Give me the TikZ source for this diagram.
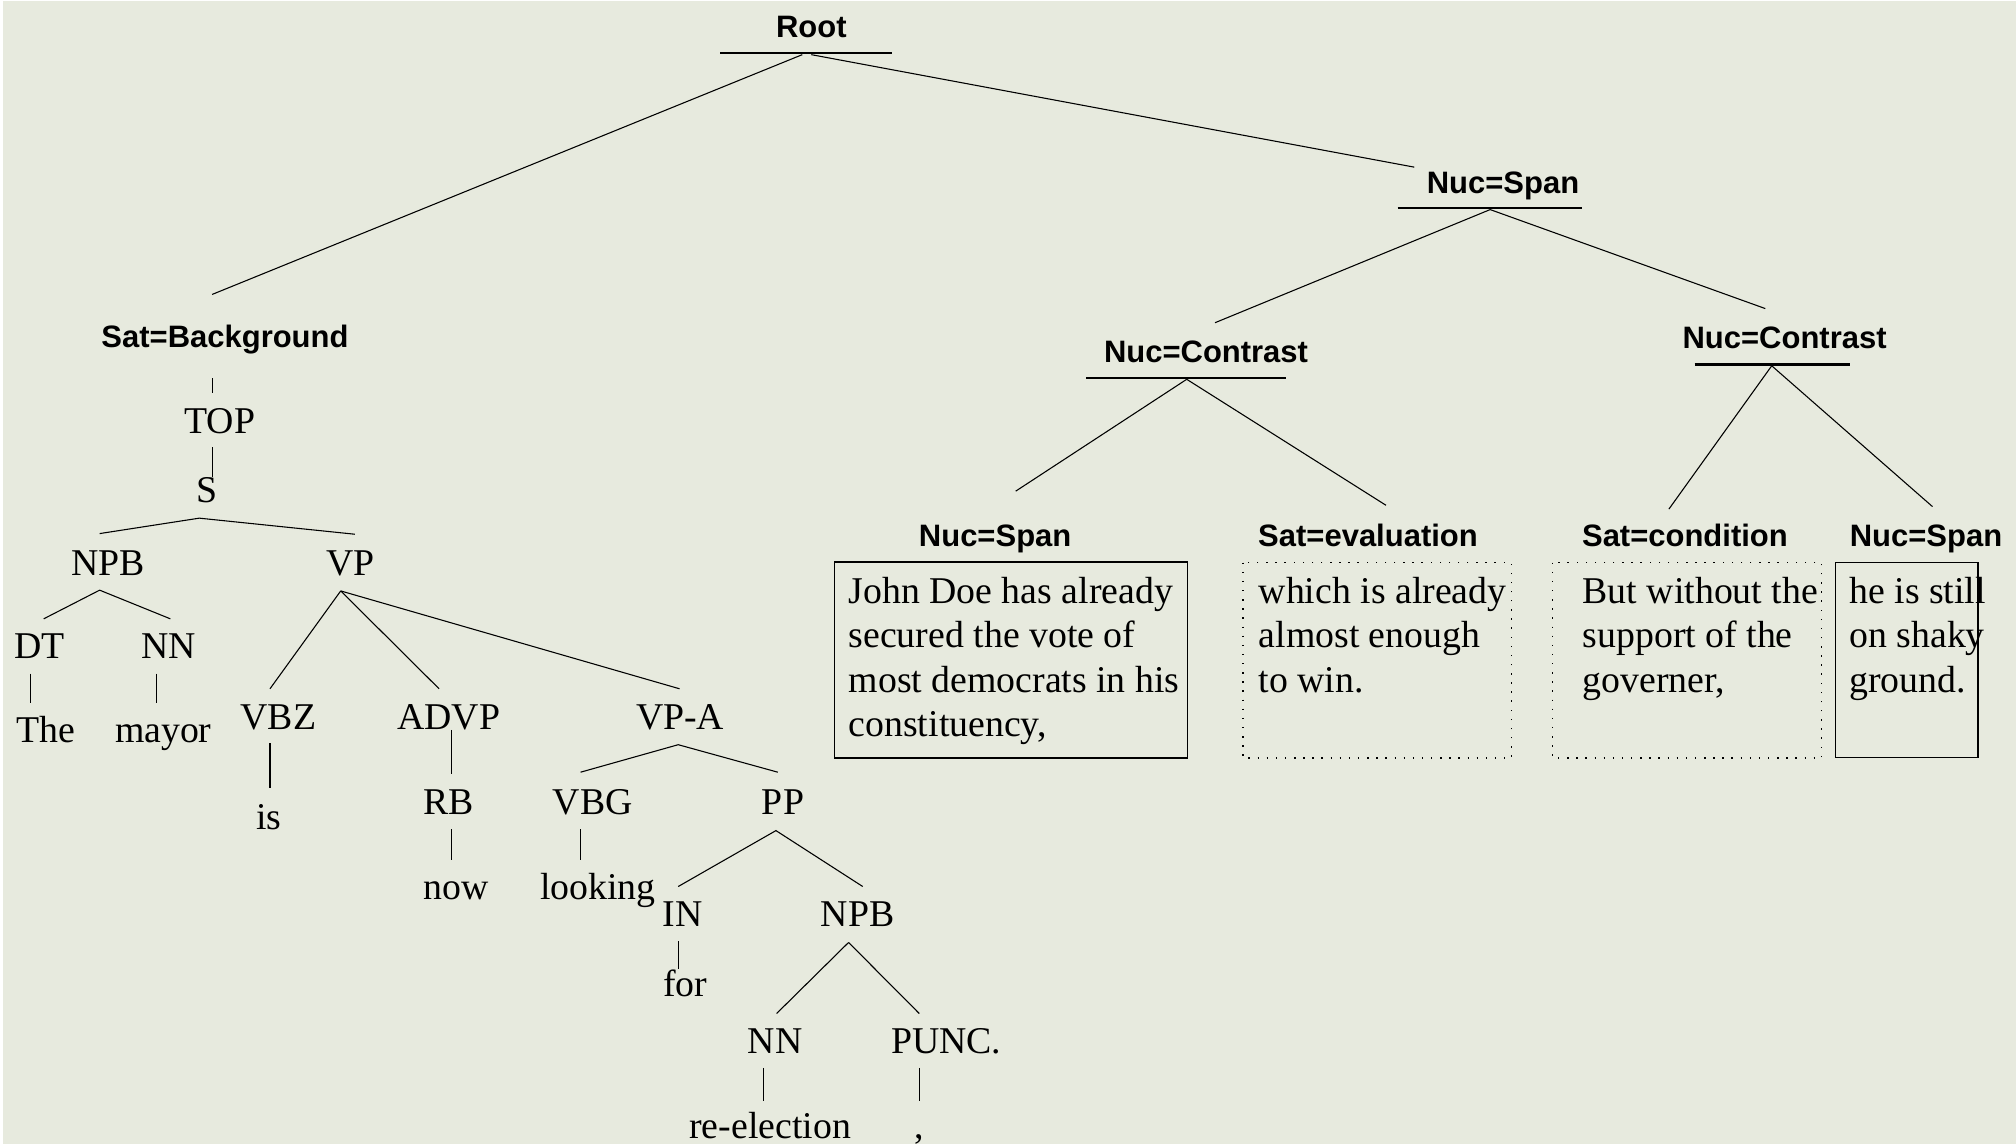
\documentclass[tikz,border=0pt]{standalone}
\usepackage{fontspec}
\setmainfont{Liberation Serif}
\newfontfamily\rstfont{Liberation Sans}
\definecolor{bgc}{RGB}{231,234,222}
\begin{document}
\begin{tikzpicture}[x=0.5pt,y=-0.5pt,
  rst/.style={font=\rstfont\bfseries\fontsize{12.05}{14}\selectfont, inner sep=0pt, anchor=base},
  syn/.style={font=\fontsize{14.7}{17}\selectfont, inner sep=0pt, anchor=base},
  boxtxt/.style={font=\fontsize{14.7}{17}\selectfont, inner sep=0pt, anchor=base west},
  edge/.style={line width=0.42pt, black},
  ul/.style={line width=0.8pt, black},
  solidbox/.style={draw=black, line width=0.6pt},
  dotbox/.style={draw=black, line width=0.55pt, dash pattern=on 0.55pt off 3pt}]
\fill[bgc] (0,0) rectangle (1568,890);
\useasboundingbox (0,0) rectangle (1568,890);
\fill[white] (0,0) rectangle (2.3,890);
\fill[white] (0,0) rectangle (1568,0.8);

% ---------------- RST labels ----------------
\node[rst] (root) at (631,29.5) {Root};
\node[rst] (nucspan) at (1169,150.4) {Nuc=Span};
\node[rst] (conL) at (938,282) {Nuc=Contrast};
\node[rst] (conR) at (1388,271) {Nuc=Contrast};
\node[rst] (satbg) at (175,270) {Sat=Background};
\node[rst] (lnucspan) at (774,425) {Nuc=Span};
\node[rst] (sateval) at (1064,425) {Sat=evaluation};
\node[rst] (satcond) at (1310.5,425) {Sat=condition};
\node[rst] (rnucspan) at (1498,425) {Nuc=Span};

% underlines
\coordinate (rootU1) at (560,41.5);   \coordinate (rootU2) at (694,41.5);
\coordinate (nsU1) at (1087,161.5);   \coordinate (nsU2) at (1230.5,161.5);
\coordinate (conLU1) at (845,294);    \coordinate (conLU2) at (1000,294);
\coordinate (conRU1) at (1318,283.5); \coordinate (conRU2) at (1439,283.5);
\draw[ul] (rootU1) -- (rootU2);
\draw[ul] (nsU1) -- (nsU2);
\draw[ul] (conLU1) -- (conLU2);
\draw[ul] (conRU1) -- (conRU2);

% RST connectors
\coordinate (rootApL) at (624,42.5);  \coordinate (rootApR) at (631,42.5);
\coordinate (satbgTop) at (165,229);
\coordinate (nsTop) at (1100,130);
\coordinate (nsApx) at (1159,163);
\coordinate (conLTop) at (945,251);
\coordinate (conRTop) at (1373,240);
\coordinate (conLApx) at (923,295);
\coordinate (lnsTop) at (790,382);
\coordinate (sevTop) at (1078,393);
\coordinate (conRApx) at (1378,284.5);
\coordinate (scoTop) at (1298,396);
\coordinate (rnsTop) at (1503,394);
\draw[edge] (rootApL) -- (satbgTop);
\draw[edge] (rootApR) -- (nsTop);
\draw[edge] (nsApx) -- (conLTop);
\draw[edge] (nsApx) -- (conRTop);
\draw[edge] (conLApx) -- (lnsTop);
\draw[edge] (conLApx) -- (sevTop);
\draw[edge] (conRApx) -- (scoTop);
\draw[edge] (conRApx) -- (rnsTop);

% ---------------- text boxes ----------------
\draw[solidbox] (649,437) rectangle (923.7,589.6);
\draw[dotbox] (966.8,437.6) rectangle (1175.8,589.6);
\draw[dotbox] (1207.6,437.6) rectangle (1416.9,589.6);
\draw[solidbox] (1427.7,437.4) rectangle (1538.5,589.3);

\node[boxtxt] (b1a) at (659.7,469.5) {John Doe has already};
\node[boxtxt] (b1b) at (659.7,503.9) {secured the vote of};
\node[boxtxt] (b1c) at (659.7,538.3) {most democrats in his};
\node[boxtxt] (b1d) at (659.7,572.7) {constituency,};

\node[boxtxt] (b2a) at (978.6,469.5) {which is already};
\node[boxtxt] (b2b) at (978.6,503.9) {almost enough};
\node[boxtxt] (b2c) at (978.6,538.3) {to win.};

\node[boxtxt] (b3a) at (1230.6,469.5) {But without the};
\node[boxtxt] (b3b) at (1230.6,503.9) {support of the};
\node[boxtxt] (b3c) at (1230.6,538.3) {governer,};

\node[boxtxt] (b4a) at (1438,469.5) {he is still};
\node[boxtxt] (b4b) at (1438,503.9) {on shaky};
\node[boxtxt] (b4c) at (1438,538.3) {ground.};

% ---------------- syntax tree ----------------
\node[syn] (top) at (171,337) {TOP};
\node[syn] (s) at (161,391) {S};
\node[syn] (npb) at (84,447.4) {NPB};
\node[syn] (vp) at (272.5,447.4) {VP};
\node[syn] (dt) at (31,512.3) {DT};
\node[syn] (nn) at (131,512.3) {NN};
\node[syn] (the) at (36,577.5) {The};
\node[syn] (mayor) at (127,577.5) {mayor};
\node[syn] (vbz) at (216.5,567) {VBZ};
\node[syn] (advp) at (349,567) {ADVP};
\node[syn] (vpa) at (529,567) {VP-A};
\node[syn] (is) at (209,645) {is};
\node[syn] (rb) at (349,633.5) {RB};
\node[syn] (now) at (355,699.4) {now};
\node[syn] (vbg) at (461,633.5) {VBG};
\node[syn] (pp) at (609,633.5) {PP};
\node[syn] (looking) at (465,699.4) {looking};
\node[syn] (in) at (531,720.8) {IN};
\node[syn] (npbb) at (667,720.8) {NPB};
\node[syn] (for) at (533,775.2) {for};
\node[syn] (nnb) at (603,819.6) {NN};
\node[syn] (punc) at (736,819.6) {PUNC.};
\node[syn] (reelec) at (599,885.5) {re-election};
\node[syn] (comma) at (715,885.5) {,};

% syntax connectors
\coordinate (bgT1) at (165,294);   \coordinate (bgT2) at (165,306);
\coordinate (topS1) at (165,348);  \coordinate (topS2) at (165,371);
\coordinate (sL) at (77.5,415);    \coordinate (sA) at (155,403);   \coordinate (sR) at (276,415.5);
\coordinate (npbL) at (34,481.3);  \coordinate (npbA) at (77.5,459); \coordinate (npbR) at (132.5,481.3);
\coordinate (dt1) at (23.5,524);   \coordinate (dt2) at (23.5,547);
\coordinate (nn1) at (121.5,524);  \coordinate (nn2) at (121.5,547);
\coordinate (vpA) at (265,459.6);
\coordinate (vbzT) at (210,535.7); \coordinate (advpT) at (341.5,535.7); \coordinate (vpaT) at (528.5,535.7);
\coordinate (vbz1) at (210,578);   \coordinate (vbz2) at (210,612.8);
\coordinate (advp1) at (351.5,567.6); \coordinate (advp2) at (351.5,601.6);
\coordinate (rb1) at (351.5,645);  \coordinate (rb2) at (351.5,668.8);
\coordinate (vpaL) at (451.5,600.6); \coordinate (vpaA) at (527.5,579.2); \coordinate (vpaR) at (605,600.6);
\coordinate (vbg1) at (451.5,645); \coordinate (vbg2) at (451.5,668.8);
\coordinate (ppL) at (527.5,689.5); \coordinate (ppA) at (603.5,646); \coordinate (ppR) at (671,689.5);
\coordinate (in1) at (527.5,732);  \coordinate (in2) at (527.5,753.8);
\coordinate (npbbA) at (660,733);  \coordinate (npbbL) at (604,788.3); \coordinate (npbbR) at (715,788.3);
\coordinate (nnb1) at (593.5,830.5); \coordinate (nnb2) at (593.5,856);
\coordinate (punc1) at (715,830.5);  \coordinate (punc2) at (715,856);

\draw[edge] (bgT1) -- (bgT2);
\draw[edge] (topS1) -- (topS2);
\draw[edge] (sL) -- (sA) -- (sR);
\draw[edge] (npbL) -- (npbA) -- (npbR);
\draw[edge] (dt1) -- (dt2);
\draw[edge] (nn1) -- (nn2);
\draw[edge] (vpA) -- (vbzT);
\draw[edge] (vpA) -- (advpT);
\draw[edge] (vpA) -- (vpaT);
\draw[edge] (vbz1) -- (vbz2);
\draw[edge] (advp1) -- (advp2);
\draw[edge] (rb1) -- (rb2);
\draw[edge] (vpaL) -- (vpaA) -- (vpaR);
\draw[edge] (vbg1) -- (vbg2);
\draw[edge] (ppL) -- (ppA) -- (ppR);
\draw[edge] (in1) -- (in2);
\draw[edge] (npbbA) -- (npbbL);
\draw[edge] (npbbA) -- (npbbR);
\draw[edge] (nnb1) -- (nnb2);
\draw[edge] (punc1) -- (punc2);
\end{tikzpicture}
\end{document}
